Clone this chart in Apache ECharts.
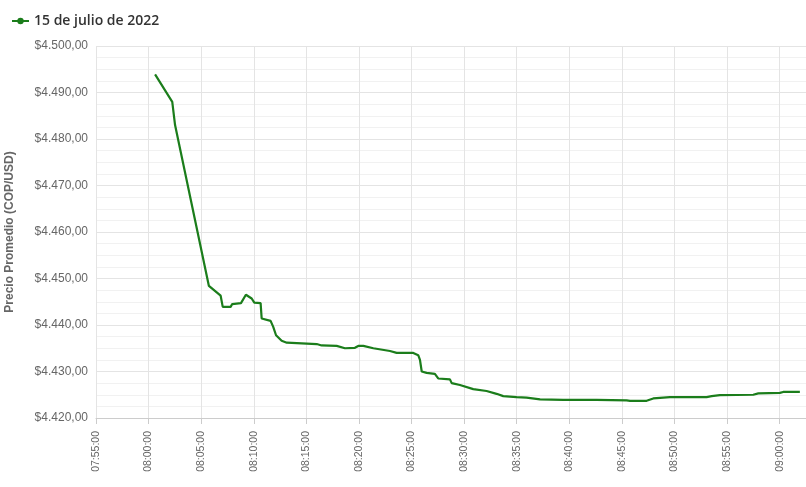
<!DOCTYPE html>
<html>
<head>
<meta charset="utf-8">
<script src="https://cdn.jsdelivr.net/npm/echarts@6/dist/echarts.min.js"></script>
<style>
html,body{margin:0;padding:0;background:#fff;}
#chart{width:806px;height:487px;}
</style>
</head>
<body>
<div id="chart"></div>
<script>
// hora de cada registro
var times = ['08:00:37','08:02:15','08:02:31','08:05:44','08:06:51','08:07:03','08:07:48','08:07:57',
	'08:08:47','08:09:15','08:09:48','08:10:03','08:10:39','08:10:45','08:11:36','08:11:51',
	'08:12:07','08:12:39','08:13:08','08:15:59','08:16:27','08:17:53','08:18:40','08:19:37',
	'08:19:56','08:20:25','08:21:22','08:22:57','08:23:35','08:25:10','08:25:38','08:25:48',
	'08:25:58','08:26:26','08:27:13','08:27:32','08:28:39','08:28:49','08:29:36','08:30:52',
	'08:32:08','08:33:05','08:33:43','08:34:59','08:35:56','08:37:13','08:39:25','08:42:36',
	'08:45:27','08:45:46','08:47:21','08:47:59','08:49:34','08:53:03','08:53:32','08:54:19',
	'08:57:29','08:57:58','09:00:01','09:00:20','09:01:55'];
// precio promedio
var prices = [4493.9,4488.0,4483.0,4448.4,4446.3,4443.9,4443.9,4444.5,
	4444.7,4446.5,4445.7,4444.8,4444.7,4441.4,4440.9,4439.6,
	4437.8,4436.6,4436.2,4435.9,4435.6,4435.5,4435.0,4435.1,
	4435.5,4435.5,4435.0,4434.4,4434.0,4434.0,4433.5,4432.5,
	4430.0,4429.7,4429.5,4428.5,4428.3,4427.5,4427.1,4426.2,
	4425.8,4425.2,4424.7,4424.5,4424.4,4424.0,4423.9,4423.9,
	4423.8,4423.7,4423.7,4424.2,4424.5,4424.5,4424.7,4424.9,
	4425.0,4425.3,4425.4,4425.6,4425.6];
var seriesName = '15 de julio de 2022';
var xStart = '07:55:00', xEnd = '09:02:30';
var yMin = 4420, yMax = 4500, yStep = 10;

function toSec(s){
	var p = s.split(':');
	return (+p[0])*3600 + (+p[1])*60 + (+p[2]);
}
function pad(n){ return (n<10?'0':'')+n; }
function fmtTime(v){
	var h = Math.floor(v/3600), m = Math.floor((v%3600)/60), s = v%60;
	return pad(h)+':'+pad(m)+':'+pad(s);
}
function fmtMoney(v){
	var parts = v.toFixed(2).split('.');
	return '$' + parts[0].replace(/\B(?=(\d{3})+(?!\d))/g,'.') + ',' + parts[1];
}

var data = [];
for(var i=0;i<times.length;i++){
	data.push([toSec(times[i]), prices[i]]);
}

var myChart = echarts.init(document.getElementById('chart'));
var labelFont = 'Liberation Sans, Arial, sans-serif';
var green = '#1b7d1b';

var option = {
	animation: false,
	legend: {
		left: 6,
		top: 9,
		itemWidth: 17,
		itemHeight: 8,
		itemGap: 6,
		textStyle: {color: '#333', fontSize: 14, fontWeight: 600, fontFamily: 'Open Sans, sans-serif'},
		data: [seriesName]
	},
	grid: {left: 96, right: 0, top: 46, bottom: 69, containLabel: false, outerBoundsMode: 'none'},
	xAxis: {
		type: 'value',
		min: toSec(xStart),
		max: toSec(xEnd),
		interval: 300,
		axisLine: {show: true, lineStyle: {color: '#ccc'}},
		axisTick: {show: true, length: 6, lineStyle: {color: '#ccc'}},
		splitLine: {show: true, lineStyle: {color: '#e4e4e4'}},
		axisLabel: {
			rotate: 90,
			color: '#666',
			fontSize: 10.5,
			fontFamily: labelFont,
			margin: 13,
			showMaxLabel: false,
			formatter: function(v){ return fmtTime(v); }
		}
	},
	yAxis: {
		type: 'value',
		min: yMin,
		max: yMax,
		interval: yStep,
		name: 'Precio Promedio (COP/USD)',
		nameLocation: 'middle',
		nameGap: 80,
		nameTextStyle: {color: '#666', fontSize: 12, fontWeight: 'bold', fontFamily: labelFont},
		axisLine: {show: false},
		axisTick: {show: false},
		minorTick: {show: false, splitNumber: 4},
		minorSplitLine: {show: true, lineStyle: {color: '#f1f1f1'}},
		splitLine: {show: true, lineStyle: {color: '#e4e4e4'}},
		axisLabel: {
			color: '#666',
			fontSize: 12,
			fontFamily: labelFont,
			margin: 8,
			formatter: function(v){ return fmtMoney(v); }
		}
	},
	series: [{
		name: seriesName,
		type: 'line',
		data: data,
		showSymbol: false,
		symbol: 'circle',
		symbolSize: 7,
		color: green,
		lineStyle: {width: 2.2, color: green}
	}]
};

myChart.setOption(option, true);
</script>
</body>
</html>
